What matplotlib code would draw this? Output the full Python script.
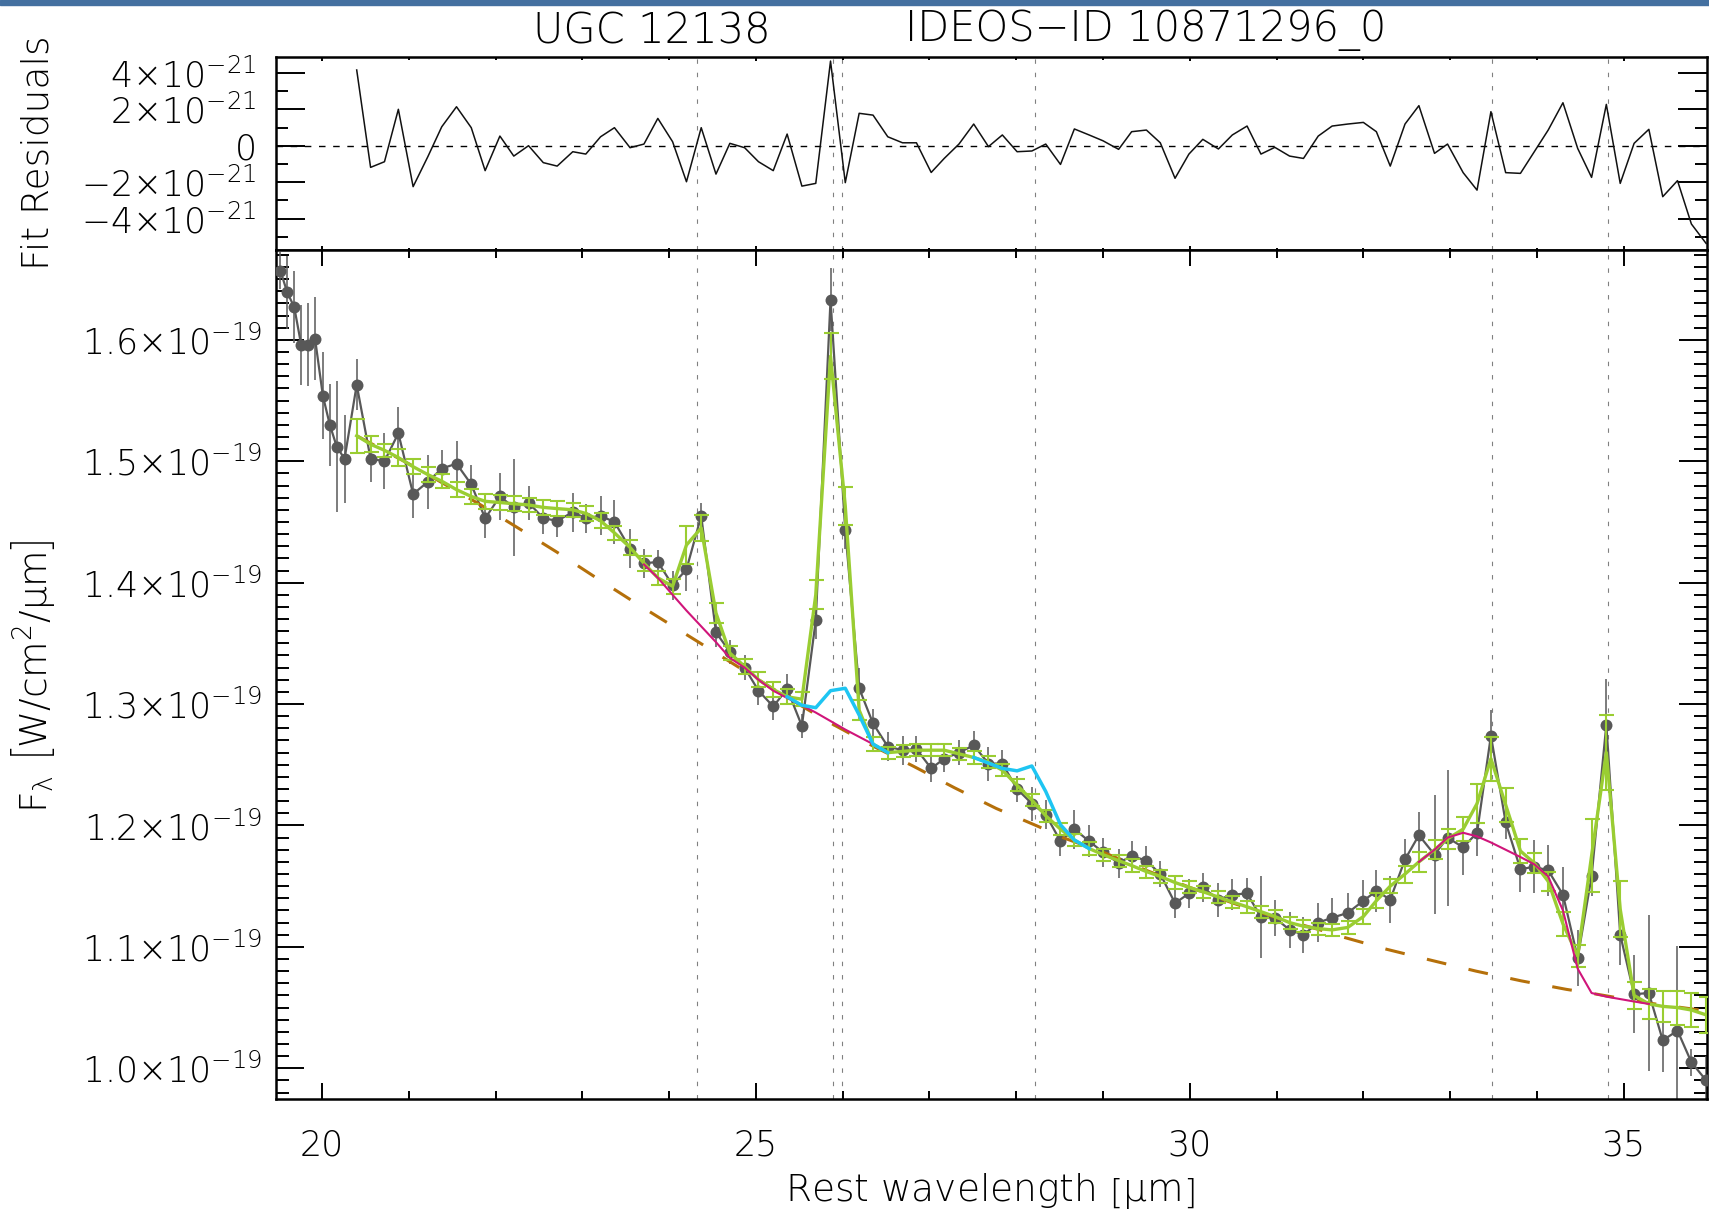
import numpy as np
import matplotlib
matplotlib.use("Agg")
import matplotlib.pyplot as plt
from matplotlib.ticker import MultipleLocator, FixedLocator, FuncFormatter
from matplotlib.patches import Rectangle

plt.rcParams["font.family"] = ["DejaVu Sans"]
plt.rcParams["font.weight"] = "light"
plt.rcParams["mathtext.fontset"] = "custom"
plt.rcParams["mathtext.rm"] = "DejaVu Sans:light"
plt.rcParams["mathtext.it"] = "DejaVu Sans:light"

FLUX_UNIT = 1e-19
RES_UNIT = 1e-21

# blue end of the spectrum (outside the fitted range)
wave_blue = [19.52, 19.60, 19.68, 19.76, 19.84, 19.92, 20.01, 20.09, 20.17, 20.26]
flux_blue = [1.657, 1.639, 1.627, 1.596, 1.596, 1.601, 1.554, 1.530, 1.512, 1.502]
err_blue = [0.015, 0.030, 0.030, 0.033, 0.034, 0.034, 0.036, 0.034, 0.054, 0.036]

# fitted range
wave = [20.40, 20.56, 20.72, 20.88, 21.05, 21.22, 21.38, 21.55, 21.72, 21.88,
        22.05, 22.21, 22.38, 22.55, 22.71, 22.89, 23.04, 23.21, 23.37, 23.55,
        23.71, 23.87, 24.04, 24.20, 24.37, 24.54, 24.70, 24.87, 25.03, 25.20,
        25.36, 25.53, 25.69, 25.86, 26.03, 26.19, 26.35, 26.52, 26.69, 26.85,
        27.02, 27.17, 27.34, 27.51, 27.68, 27.84, 28.01, 28.18, 28.34, 28.51,
        28.67, 28.84, 29.00, 29.18, 29.33, 29.50, 29.66, 29.83, 29.99, 30.15,
        30.33, 30.49, 30.66, 30.82, 30.98, 31.15, 31.31, 31.48, 31.64, 31.82,
        32.00, 32.15, 32.31, 32.48, 32.64, 32.82, 32.97, 33.15, 33.31, 33.47,
        33.64, 33.81, 33.97, 34.13, 34.30, 34.47, 34.63, 34.80, 34.96, 35.12,
        35.29, 35.45, 35.62, 35.78, 35.95]
flux = [1.563, 1.502, 1.500, 1.523, 1.473, 1.483, 1.494, 1.498, 1.481, 1.453,
        1.471, 1.462, 1.466, 1.453, 1.451, 1.458, 1.453, 1.455, 1.450, 1.428,
        1.416, 1.417, 1.398, 1.411, 1.455, 1.359, 1.343, 1.330, 1.311, 1.298,
        1.3125, 1.282, 1.369, 1.633, 1.443, 1.313, 1.284, 1.265, 1.262, 1.263,
        1.247, 1.255, 1.260, 1.266, 1.251, 1.251, 1.230, 1.218, 1.209, 1.187,
        1.197, 1.187, 1.178, 1.169, 1.175, 1.171, 1.160, 1.136, 1.144, 1.149,
        1.139, 1.143, 1.144, 1.1245, 1.124, 1.114, 1.110, 1.120, 1.124, 1.128,
        1.138, 1.146, 1.139, 1.172, 1.192, 1.176, 1.190, 1.182, 1.194, 1.274,
        1.2025, 1.164, 1.166, 1.163, 1.143, 1.091, 1.158, 1.283, 1.110, 1.061,
        1.062, 1.023, 1.031, 1.005, 0.990]
flux_err = [0.021, 0.019, 0.023, 0.022, 0.020, 0.022, 0.015, 0.019, 0.016, 0.016,
            0.019, 0.040, 0.014, 0.013, 0.013, 0.016, 0.012, 0.016, 0.018, 0.016,
            0.012, 0.010, 0.012, 0.018, 0.011, 0.012, 0.010, 0.010, 0.012, 0.011,
            0.012, 0.010, 0.015, 0.026, 0.015, 0.017, 0.012, 0.012, 0.012, 0.011,
            0.011, 0.011, 0.010, 0.012, 0.014, 0.011, 0.011, 0.014, 0.012, 0.012,
            0.016, 0.013, 0.012, 0.012, 0.012, 0.012, 0.011, 0.012, 0.012, 0.012,
            0.014, 0.013, 0.013, 0.034, 0.015, 0.015, 0.015, 0.016, 0.016, 0.016,
            0.017, 0.017, 0.019, 0.017, 0.019, 0.049, 0.056, 0.023, 0.019, 0.021,
            0.014, 0.019, 0.022, 0.021, 0.023, 0.023, 0.016, 0.038, 0.025, 0.032,
            0.064, 0.026, 0.070, 0.011, 0.020]
model = [1.521, 1.514, 1.509, 1.503, 1.4955, 1.489, 1.4836, 1.4766, 1.471, 1.467,
         1.466, 1.465, 1.464, 1.462, 1.461, 1.460, 1.457, 1.451, 1.441, 1.429,
         1.416, 1.404, 1.397, 1.431, 1.445, 1.375, 1.342, 1.331, 1.320, 1.312,
         1.306, 1.304, 1.390, 1.5865, 1.463, 1.295, 1.267, 1.260, 1.261, 1.262,
         1.262, 1.262, 1.259, 1.256, 1.252, 1.2455, 1.233, 1.221, 1.208, 1.197,
         1.188, 1.181, 1.176, 1.171, 1.167, 1.162, 1.158, 1.153, 1.149, 1.1455,
         1.141, 1.137, 1.133, 1.129, 1.125, 1.120, 1.117, 1.115, 1.114, 1.116,
         1.125, 1.138, 1.150, 1.160, 1.170, 1.180, 1.189, 1.197, 1.218, 1.255,
         1.217, 1.179, 1.169, 1.154, 1.119, 1.0925, 1.175, 1.260, 1.131, 1.060,
         1.053, 1.051, 1.050, 1.048, 1.044]
model_err = [0.014, 0.0065, 0.0055, 0.007, 0.006, 0.006, 0.006, 0.006, 0.006, 0.006,
             0.006, 0.006, 0.006, 0.006, 0.006, 0.006, 0.006, 0.006, 0.006, 0.006,
             0.006, 0.006, 0.006, 0.016, 0.011, 0.008, 0.006, 0.006, 0.006, 0.006,
             0.006, 0.006, 0.012, 0.019, 0.0155, 0.008, 0.006, 0.005, 0.005, 0.005,
             0.005, 0.005, 0.005, 0.005, 0.005, 0.005, 0.005, 0.005, 0.005, 0.005,
             0.005, 0.005, 0.005, 0.005, 0.005, 0.005, 0.005, 0.005, 0.005, 0.005,
             0.005, 0.005, 0.005, 0.005, 0.005, 0.005, 0.005, 0.005, 0.005, 0.005,
             0.006, 0.006, 0.006, 0.007, 0.008, 0.008, 0.008, 0.010, 0.016, 0.018,
             0.014, 0.010, 0.008, 0.008, 0.010, 0.009, 0.030, 0.031, 0.023, 0.011,
             0.012, 0.013, 0.014, 0.014, 0.015]
resid = [4.16, -1.19, -0.88, 2.00, -2.25, -0.60, 1.04, 2.14, 0.99, -1.37,
         0.53, -0.57, 0.00, -0.93, -1.12, -0.33, -0.46, 0.49, 0.99, -0.11,
         0.09, 1.50, 0.22, -1.98, 0.99, -1.56, 0.13, -0.11, -0.88, -1.37,
         0.64, -2.22, -2.07, 4.65, -2.03, 1.78, 1.68, 0.49, 0.16, 0.16,
         -1.47, -0.70, 0.09, 1.19, -0.05, 0.59, -0.33, -0.29, 0.09, -1.03,
         0.92, 0.59, 0.27, -0.20, 0.77, 0.86, 0.16, -1.79, -0.46, 0.35,
         -0.18, 0.59, 1.08, -0.46, -0.09, -0.57, -0.70, 0.53, 1.08, 1.19,
         1.28, 0.77, -1.12, 1.19, 2.20, -0.42, 0.09, -1.48, -2.44, 1.87,
         -1.48, -1.52, -0.33, 0.86, 2.36, -0.15, -1.74, 2.27, -2.07, 0.13,
         0.90, -2.80, -1.92, -4.30, -5.37]

# continuum
cont_wave = [20.40, 21.05, 21.83, 22.26, 22.71, 23.16, 23.62, 24.07, 24.52, 24.72,
             25.30, 25.87, 26.36, 26.81, 27.29, 27.77, 28.26, 28.50, 29.00, 29.50,
             30.00, 30.50, 31.00, 31.50, 31.77, 32.27, 32.78, 33.30, 33.82, 34.34,
             34.61, 35.26, 35.98]
cont_flux = [1.521, 1.496, 1.464, 1.445, 1.425, 1.404, 1.383, 1.363, 1.343, 1.334,
             1.308, 1.284, 1.265, 1.249, 1.231, 1.214, 1.199, 1.191, 1.178, 1.163,
             1.149, 1.136, 1.124, 1.114, 1.108, 1.098, 1.089, 1.080, 1.072, 1.065,
             1.062, 1.054, 1.047]

# continuum + dust features
dust_wave_1 = [23.71, 23.87, 24.04, 24.20, 24.37, 24.54, 24.70, 24.87, 25.03, 25.20,
               25.36, 25.53, 25.69, 25.86, 26.03, 26.19, 26.35, 26.52]
dust_flux_1 = [1.415, 1.404, 1.390, 1.377, 1.364, 1.351, 1.338, 1.330, 1.320, 1.311,
               1.305, 1.299, 1.293, 1.286, 1.279, 1.273, 1.267, 1.260]
dust_wave_2 = [32.64, 32.82, 32.97, 33.15, 33.31, 33.47, 33.64, 33.81, 33.97, 34.13,
               34.30, 34.47, 34.63, 34.80, 34.96, 35.12, 35.29]
dust_flux_2 = [1.170, 1.180, 1.190, 1.194, 1.191, 1.186, 1.180, 1.174, 1.168, 1.158,
               1.130, 1.082, 1.062, 1.059, 1.057, 1.055, 1.053]

# continuum + dust + broad bands
band_wave_1 = [25.36, 25.53, 25.69, 25.86, 26.03, 26.19, 26.35, 26.52]
band_flux_1 = [1.306, 1.299, 1.297, 1.311, 1.313, 1.291, 1.267, 1.260]
band_wave_2 = [27.51, 27.68, 27.84, 28.01, 28.18, 28.34, 28.51, 28.67, 28.84]
band_flux_2 = [1.256, 1.2514, 1.247, 1.245, 1.249, 1.228, 1.2006, 1.188, 1.181]

# fine-structure / H2 line positions
line_waves = [24.32, 25.89, 25.99, 28.22, 33.48, 34.82]

all_wave = np.array(wave_blue + wave)
all_flux = np.array(flux_blue + flux) * FLUX_UNIT
all_err = np.array(err_blue + flux_err) * FLUX_UNIT

GRAY = "#585858"
GREEN = "#9acd32"
BROWN = "#b5700a"
MAGENTA = "#d0157a"
CYAN = "#1ec5f2"

fig = plt.figure(figsize=(17.09, 12.16), dpi=100)
W, H = 1709.0, 1216.0
ax_res = fig.add_axes([276 / W, 1 - 250 / H, 1431 / W, 193.3 / H])
ax = fig.add_axes([276 / W, 1 - 1099 / H, 1431 / W, 849 / H])

# strip at the very top
fig.patches.append(Rectangle((0, 1 - 5 / H), 1, 5 / H, transform=fig.transFigure,
                             color="#4470a0", zorder=0))

xlim = (19.47, 35.96)

# ---- residuals ----
ax_res.plot(wave, np.array(resid) * RES_UNIT, color="#111111", lw=1.1, zorder=3)
ax_res.axhline(0, color="black", lw=1.0, dashes=(4.7, 5.5), zorder=2)
for lw_ in line_waves:
    ax_res.axvline(lw_, color="#808080", lw=0.8, dashes=(4, 8), zorder=1)
ax_res.set_xlim(*xlim)
ax_res.set_ylim(-5.73 * RES_UNIT, 4.89 * RES_UNIT)
ax_res.yaxis.set_major_locator(FixedLocator(np.array([-4, -2, 0, 2, 4]) * RES_UNIT))
ax_res.yaxis.set_minor_locator(FixedLocator(np.arange(-5, 5) * RES_UNIT))


def resid_label(v, pos):
    n = int(round(v / RES_UNIT))
    if n == 0:
        return "0"
    return rf"${n}{{\times}}10^{{-21}}$"


def flux_label(v, pos):
    return rf"${v / FLUX_UNIT:.1f}{{\times}}10^{{-19}}$"


ax_res.yaxis.set_major_formatter(FuncFormatter(resid_label))
ax_res.xaxis.set_major_locator(MultipleLocator(5))
ax_res.xaxis.set_minor_locator(MultipleLocator(1))
ax_res.tick_params(axis="x", which="major", direction="in", top=True, bottom=True,
                   length=3.2, width=1.4, labelbottom=False)
ax_res.tick_params(axis="x", which="minor", direction="in", top=True, bottom=True,
                   length=1.8, width=1.4)
ax_res.tick_params(axis="y", which="major", direction="in", left=True, right=True,
                   length=21, width=1.4, labelsize=25, pad=14)
ax_res.tick_params(axis="y", which="minor", direction="in", left=True, right=True,
                   length=8.6, width=1.4)

# ---- spectrum ----
for lw_ in line_waves:
    ax.axvline(lw_, color="#808080", lw=0.8, dashes=(4, 8), zorder=1)

ax.errorbar(all_wave, all_flux, yerr=all_err, fmt="none", ecolor=GRAY,
            elinewidth=1.1, capsize=0, zorder=2)
ax.plot(all_wave, all_flux, color=GRAY, lw=1.6, marker="o", ms=8.6,
        markeredgewidth=0, zorder=3)

ax.plot(cont_wave, np.array(cont_flux) * FLUX_UNIT, color=BROWN, lw=2.2,
        dashes=(6.5, 7.5), zorder=4)

model_f = np.array(model) * FLUX_UNIT
ax.errorbar(wave, model_f, yerr=np.array(model_err) * FLUX_UNIT, fmt="none",
            ecolor=GREEN, elinewidth=1.5, capsize=5.4, capthick=1.5, zorder=5)
ax.plot(wave, model_f, color=GREEN, lw=2.4, zorder=5)

ax.plot(dust_wave_1, np.array(dust_flux_1) * FLUX_UNIT, color=MAGENTA, lw=1.5, zorder=6)
ax.plot(dust_wave_2, np.array(dust_flux_2) * FLUX_UNIT, color=MAGENTA, lw=1.5, zorder=6)
ax.plot(band_wave_1, np.array(band_flux_1) * FLUX_UNIT, color=CYAN, lw=2.5, zorder=7)
ax.plot(band_wave_2, np.array(band_flux_2) * FLUX_UNIT, color=CYAN, lw=2.5, zorder=7)

ax.set_xlim(*xlim)
ax.set_ylim(0.9747 * FLUX_UNIT, 1.674 * FLUX_UNIT)
ax.xaxis.set_major_locator(MultipleLocator(5))
ax.xaxis.set_minor_locator(MultipleLocator(1))
ax.yaxis.set_major_locator(FixedLocator(np.arange(1.0, 1.65, 0.1) * FLUX_UNIT))
ax.yaxis.set_minor_locator(FixedLocator(np.arange(0.98, 1.675, 0.01) * FLUX_UNIT))
ax.yaxis.set_major_formatter(FuncFormatter(flux_label))
ax.tick_params(axis="x", which="major", direction="in", top=True, bottom=True,
               length=11.5, width=1.4, labelsize=25, pad=21)
ax.tick_params(axis="x", which="minor", direction="in", top=True, bottom=True,
               length=5.8, width=1.4)
ax.tick_params(axis="y", which="major", direction="in", left=True, right=True,
               length=20, width=1.4, labelsize=25, pad=10)
ax.tick_params(axis="y", which="minor", direction="in", left=True, right=True,
               length=9.4, width=1.4)

for a in (ax, ax_res):
    for sp in a.spines.values():
        sp.set_linewidth(1.8)

# labels
fig.text(652 / W, 1 - 30.5 / H, "UGC 12138", ha="center", va="center", fontsize=30)
fig.text(1146 / W, 1 - 30.5 / H, "IDEOS−ID 10871296_0", ha="center", va="center",
         fontsize=30)
fig.text(990 / W, 1 - 1191 / H, r"Rest wavelength $\left[\mu\mathrm{m}\right]$",
         ha="center", va="center", fontsize=27)
fig.text(33 / W, 1 - 676 / H, r"F$_\lambda$ $\left[\mathrm{W/cm^2/}\mu\mathrm{m}\right]$",
         ha="center", va="center", rotation=90, fontsize=27)
fig.text(38 / W, 1 - 153 / H, "Fit Residuals", ha="center", va="center",
         rotation=90, fontsize=27)

fig.savefig("out.png", dpi=100)
